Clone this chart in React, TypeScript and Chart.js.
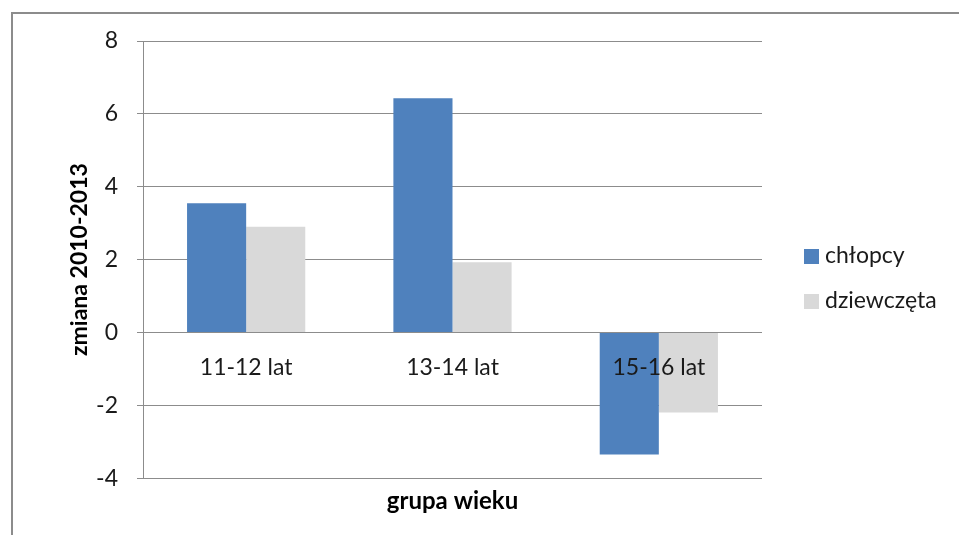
import React, { useEffect, useRef } from "react";
import { Chart, registerables } from "chart.js";

Chart.register(...registerables);

const categories = ["11-12 lat", "13-14 lat", "15-16 lat"];
const boysValues = [3.55, 6.43, -3.35];
const girlsValues = [2.9, 1.93, -2.2];
const seriesNames = ["chłopcy", "dziewczęta"];
const seriesColors = ["#4f81bd", "#d9d9d9"];
const yTitle = "zmiana 2010-2013";
const xTitle = "grupa wieku";

const FONT = "Lato, 'Open Sans', sans-serif";

const framePlugin = {
  id: "frame",
  beforeDraw(chart: any) {
    const ctx = chart.ctx;
    ctx.save();
    ctx.strokeStyle = "#8c8c8c";
    ctx.lineWidth = 2;
    ctx.strokeRect(12, 13, 2000, 2000);
    ctx.restore();
  },
};

const legendPlugin = {
  id: "customLegend",
  afterDraw(chart: any) {
    const ctx = chart.ctx;
    ctx.save();
    ctx.font = `23px ${FONT}`;
    ctx.textBaseline = "middle";
    ctx.textAlign = "left";
    chart.data.datasets.forEach((ds: any, i: number) => {
      const cy = 256 + i * 45;
      ctx.fillStyle = ds.backgroundColor;
      ctx.fillRect(804, cy - 7, 15, 15);
      ctx.fillStyle = "#1a1a1a";
      ctx.fillText(ds.label, 825, cy);
    });
    ctx.restore();
  },
};

export default function App() {
  const ref = useRef<HTMLCanvasElement>(null);
  useEffect(() => {
    if (!ref.current) return;
    const chart = new Chart(ref.current, {
      type: "bar",
      data: {
        labels: categories,
        datasets: [
          {
            label: seriesNames[0],
            data: boysValues,
            backgroundColor: seriesColors[0],
            xAxisID: "x",
            barPercentage: 1,
            categoryPercentage: 0.573,
          },
          {
            label: seriesNames[1],
            data: girlsValues,
            backgroundColor: seriesColors[1],
            xAxisID: "x",
            barPercentage: 1,
            categoryPercentage: 0.573,
          },
        ],
      },
      options: {
        animation: false,
        responsive: true,
        maintainAspectRatio: false,
        layout: { padding: { top: 41, left: 62, right: 197, bottom: 19 } },
        plugins: {
          legend: { display: false },
          tooltip: { enabled: false },
        },
        scales: {
          x: {
            type: "category",
            position: { y: 0 } as any,
            grid: { display: false },
            border: { display: false },
            ticks: {
              z: 1,
              autoSkip: false,
              maxRotation: 0,
              color: "#1a1a1a",
              font: { family: FONT, size: 23 },
              padding: 13,
            },
          },
          x2: {
            type: "category",
            position: "bottom",
            grid: { display: false },
            border: { display: false },
            ticks: { display: false },
            title: {
              display: true,
              text: xTitle,
              color: "#000",
              font: { family: FONT, size: 24, weight: "bold" },
              padding: { top: 1, bottom: 0 },
            },
          },
          y: {
            min: -4,
            max: 8,
            ticks: {
              stepSize: 2,
              color: "#1a1a1a",
              font: { family: FONT, size: 23 },
              padding: 19,
            },
            grid: {
              color: "#8c8c8c",
              lineWidth: 1,
              tickLength: 6,
              drawTicks: true,
            },
            border: { display: true, color: "#8c8c8c", width: 1 },
            title: {
              display: true,
              text: yTitle,
              color: "#000",
              font: { family: FONT, size: 23, weight: "bold" },
              padding: { top: 4, bottom: 0 },
            },
            afterFit(scale: any) {
              scale.width = 81;
            },
          },
        },
      },
      plugins: [framePlugin, legendPlugin],
    });
    return () => chart.destroy();
  }, []);
  return (
    <div style={{ position: "fixed", left: 0, top: 0, width: 959, height: 535, background: "#fff" }}>
      <canvas ref={ref} />
    </div>
  );
}
